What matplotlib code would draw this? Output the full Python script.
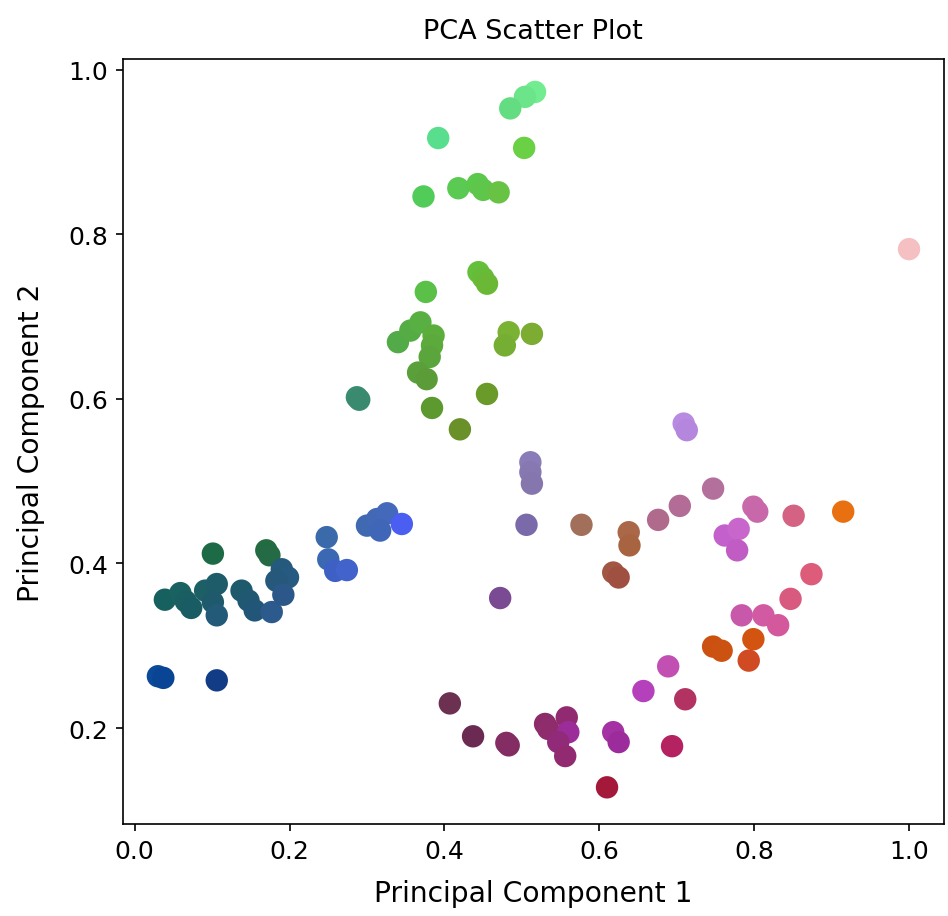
import matplotlib
matplotlib.use("Agg")
import matplotlib.pyplot as plt

pc1 = [0.030, 0.037, 0.106, 0.101, 0.170, 0.174, 0.039, 0.059, 0.066, 0.073,
       0.091, 0.106, 0.101, 0.106, 0.138, 0.147, 0.155, 0.177, 0.190, 0.198,
       0.183, 0.192, 0.248, 0.250, 0.259, 0.274, 0.300, 0.313, 0.326, 0.317,
       0.345,
       0.517, 0.504, 0.485, 0.392, 0.503, 0.373, 0.418, 0.443, 0.450, 0.470,
       0.444, 0.450, 0.455, 0.376, 0.340, 0.356, 0.369, 0.386, 0.384, 0.381,
       0.366, 0.377, 0.483, 0.478, 0.513, 0.287, 0.290, 0.384, 0.455, 0.420,
       0.511, 0.511, 0.513, 0.506, 0.472, 0.577, 0.638, 0.639, 0.618, 0.625,
       0.709, 0.713, 0.676, 0.704, 0.747, 0.799, 0.804, 0.851, 0.915, 1.000,
       0.762, 0.780, 0.778, 0.874, 0.847, 0.784, 0.812, 0.831, 0.747, 0.758,
       0.799, 0.793, 0.689, 0.657, 0.711, 0.618, 0.625, 0.694, 0.610, 0.407,
       0.437, 0.483, 0.480, 0.530, 0.534, 0.558, 0.560, 0.547, 0.556]

pc2 = [0.263, 0.261, 0.258, 0.412, 0.416, 0.410, 0.356, 0.364, 0.354, 0.346,
       0.367, 0.375, 0.353, 0.337, 0.367, 0.355, 0.343, 0.341, 0.393, 0.383,
       0.379, 0.362, 0.432, 0.405, 0.391, 0.392, 0.446, 0.454, 0.461, 0.440,
       0.448,
       0.973, 0.967, 0.953, 0.917, 0.905, 0.846, 0.856, 0.861, 0.854, 0.851,
       0.754, 0.747, 0.740, 0.730, 0.669, 0.683, 0.693, 0.677, 0.665, 0.651,
       0.632, 0.624, 0.681, 0.665, 0.679, 0.602, 0.599, 0.589, 0.606, 0.563,
       0.523, 0.511, 0.497, 0.447, 0.358, 0.447, 0.438, 0.422, 0.389, 0.383,
       0.570, 0.562, 0.453, 0.470, 0.491, 0.469, 0.463, 0.458, 0.463, 0.782,
       0.434, 0.442, 0.416, 0.387, 0.357, 0.337, 0.337, 0.325, 0.299, 0.294,
       0.308, 0.282, 0.275, 0.245, 0.235, 0.195, 0.183, 0.178, 0.128, 0.230,
       0.190, 0.179, 0.182, 0.205, 0.199, 0.213, 0.195, 0.183, 0.166]

point_colors = [
    "#0b4a9a", "#0a4595", "#123c86", "#1d6b46", "#236c42", "#246a44", "#176060", "#186262", "#1a5e62", "#1a5c64",
    "#1c6066", "#1e5c6a", "#1e5a6c", "#225a78", "#1f5a6c", "#205872", "#225678", "#2c5a8c", "#255a7c", "#275a80",
    "#26587c", "#2b5888", "#3a6aaa", "#3b68b2", "#3e60c4", "#4262cc", "#3f6ab2", "#4268b6", "#4468ba", "#4066b8",
    "#4a5ef2",
    "#72ec90", "#6ce48a", "#64dc82", "#58de8c", "#6ad044", "#52cc58", "#5aca52", "#5cc84c", "#5ec64a", "#68c244",
    "#64c03a", "#66bc38", "#6ab836", "#5ac048", "#52aa48", "#56ac44", "#58b042", "#5cae3c", "#5caa3c", "#5aa63c",
    "#5aa03a", "#5c9c38", "#7ab234", "#76ae34", "#7cac32", "#3a8c72", "#3a8a70", "#5c9a30", "#6a9a2a", "#6a902a",
    "#8a7cb8", "#8878b2", "#8676ae", "#7a6aaa", "#7a4a92", "#a2705a", "#aa6848", "#a86440", "#a25644", "#a05040",
    "#b88ae2", "#b486de", "#b06a8c", "#b26c96", "#b4709c", "#c86aaa", "#c868aa", "#d46282", "#e87010", "#f5c0c2",
    "#c460cc", "#c866cc", "#c05cc4", "#dc5c7a", "#d85a7e", "#c858aa", "#d25aa2", "#d4589c", "#cc5010", "#cc5212",
    "#d25410", "#d04a22", "#c250b2", "#b440bc", "#b23262", "#a432a4", "#9c2c9c", "#b42262", "#a4183a", "#6c3050",
    "#6a2a52", "#822c62", "#842c64", "#8c2a6a", "#8e2c6c", "#922a72", "#9c2c9a", "#922a7a", "#922a72",
]

title = "PCA Scatter Plot"
xlabel = "Principal Component 1"
ylabel = "Principal Component 2"

fig = plt.figure(figsize=(6.32, 6.113), dpi=150)
ax = fig.add_axes([0.1294, 0.1003, 0.9958 - 0.1294, 0.9346 - 0.1003])
ax.scatter(pc1, pc2, c=point_colors, s=95)
ax.set_xlim(-0.0155, 1.0452)
ax.set_ylim(0.0834, 1.013)
ax.set_title(title, fontsize=13, pad=10)
ax.set_xlabel(xlabel, fontsize=13.5, labelpad=8)
ax.set_ylabel(ylabel, fontsize=13.5, labelpad=11)
ax.tick_params(labelsize=12)
fig.savefig("out.png", dpi=150)
